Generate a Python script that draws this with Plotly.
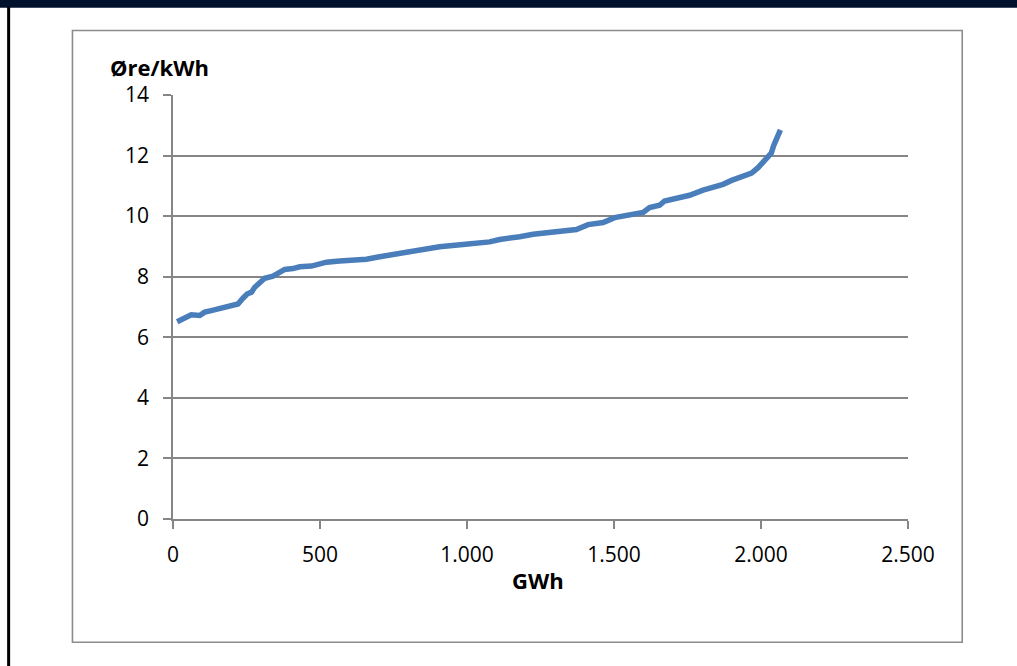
import plotly.graph_objects as go

# Supply curve: cumulative volume (GWh) against price (øre/kWh)
gwh = [14, 34, 62, 91, 108, 130, 159, 193, 221, 238, 252, 267, 278, 295, 312,
       340, 357, 380, 408, 431, 471, 493, 522, 567, 590, 658, 703, 760, 799,
       862, 907, 986, 1032, 1077, 1111, 1151, 1179, 1225, 1293, 1372, 1412,
       1463, 1502, 1542, 1599, 1621, 1655, 1672, 1712, 1757, 1803, 1848,
       1871, 1900, 1934, 1968, 1990, 2007, 2024, 2035, 2043, 2054, 2066]
ore_kwh = [6.51, 6.61, 6.74, 6.72, 6.83, 6.88, 6.96, 7.01, 7.10, 7.29, 7.43,
           7.49, 7.65, 7.80, 7.95, 8.02, 8.13, 8.24, 8.27, 8.33, 8.35, 8.41,
           8.48, 8.52, 8.53, 8.58, 8.66, 8.75, 8.85, 8.91, 8.99, 9.06, 9.10,
           9.15, 9.23, 9.27, 9.32, 9.40, 9.48, 9.56, 9.72, 9.79, 9.95, 10.03,
           10.12, 10.28, 10.36, 10.50, 10.58, 10.69, 10.86, 10.96, 11.05,
           11.18, 11.31, 11.42, 11.60, 11.79, 11.95, 12.08, 12.33, 12.61, 12.85]

x_ticks = [0, 500, 1000, 1500, 2000, 2500]
y_ticks = [0, 2, 4, 6, 8, 10, 12, 14]

W, H = 1017, 666
L, R, T, B = 173.3, 908.0, 94.5, 519.5
GRID = "#868686"
FONT = "Open Sans, Liberation Sans, sans-serif"


def px(x):
    return (x - L) / (R - L)


def py(y):
    return (B - y) / (B - T)


fig = go.Figure()
fig.add_trace(go.Scatter(
    x=gwh, y=ore_kwh, mode="lines",
    line=dict(color="#4a7ebb", width=5.5),
    hoverinfo="skip", showlegend=False,
))

shapes = [
    # dark band along the top edge
    dict(type="rect", xref="paper", yref="paper", x0=px(0), x1=px(W),
         y0=py(7), y1=py(-5), fillcolor="#00112e", line=dict(width=0),
         layer="below"),
    # black rule down the left edge
    dict(type="rect", xref="paper", yref="paper", x0=px(7.5), x1=px(10.5),
         y0=py(H + 5), y1=py(6), fillcolor="#000000", line=dict(width=0),
         layer="below"),
    # chart frame
    dict(type="rect", xref="paper", yref="paper", x0=px(72.8), x1=px(962.2),
         y0=py(643), y1=py(29.8), fillcolor="rgba(0,0,0,0)",
         line=dict(color="#8c8c8c", width=1.6), layer="below"),
]

annotations = [
    dict(text="<b>Øre/kWh</b>", xref="paper", yref="paper", x=px(160),
         y=py(66), xanchor="center", yanchor="middle", showarrow=False,
         font=dict(family=FONT, size=22, color="#000000")),
    dict(text="<b>GWh</b>", xref="paper", yref="paper", x=px(538),
         y=py(581), xanchor="center", yanchor="middle", showarrow=False,
         font=dict(family=FONT, size=22, color="#000000")),
]

fig.update_layout(
    width=W, height=H,
    margin=dict(l=L, r=W - R, t=T, b=H - B, pad=0),
    paper_bgcolor="white", plot_bgcolor="white",
    separators=",.",
    shapes=shapes, annotations=annotations,
    font=dict(family=FONT, size=21, color="#000000"),
)

fig.update_xaxes(
    range=[0, 2500], tickvals=x_ticks, tickformat=",d",
    showgrid=False, zeroline=False,
    showline=True, linecolor=GRID, linewidth=1.6,
    ticks="outside", ticklen=8, tickwidth=1.6, tickcolor=GRID,
    ticklabelstandoff=8,
    tickfont=dict(family=FONT, size=21, color="#000000"),
)
fig.update_yaxes(
    range=[0, 14], tickvals=y_ticks,
    showgrid=True, gridcolor=GRID, gridwidth=1.6, zeroline=False,
    showline=True, linecolor=GRID, linewidth=1.6,
    ticks="outside", ticklen=8, tickwidth=1.6, tickcolor=GRID,
    ticklabelstandoff=10,
    tickfont=dict(family=FONT, size=21, color="#000000"),
)

fig.write_html("out.html")
